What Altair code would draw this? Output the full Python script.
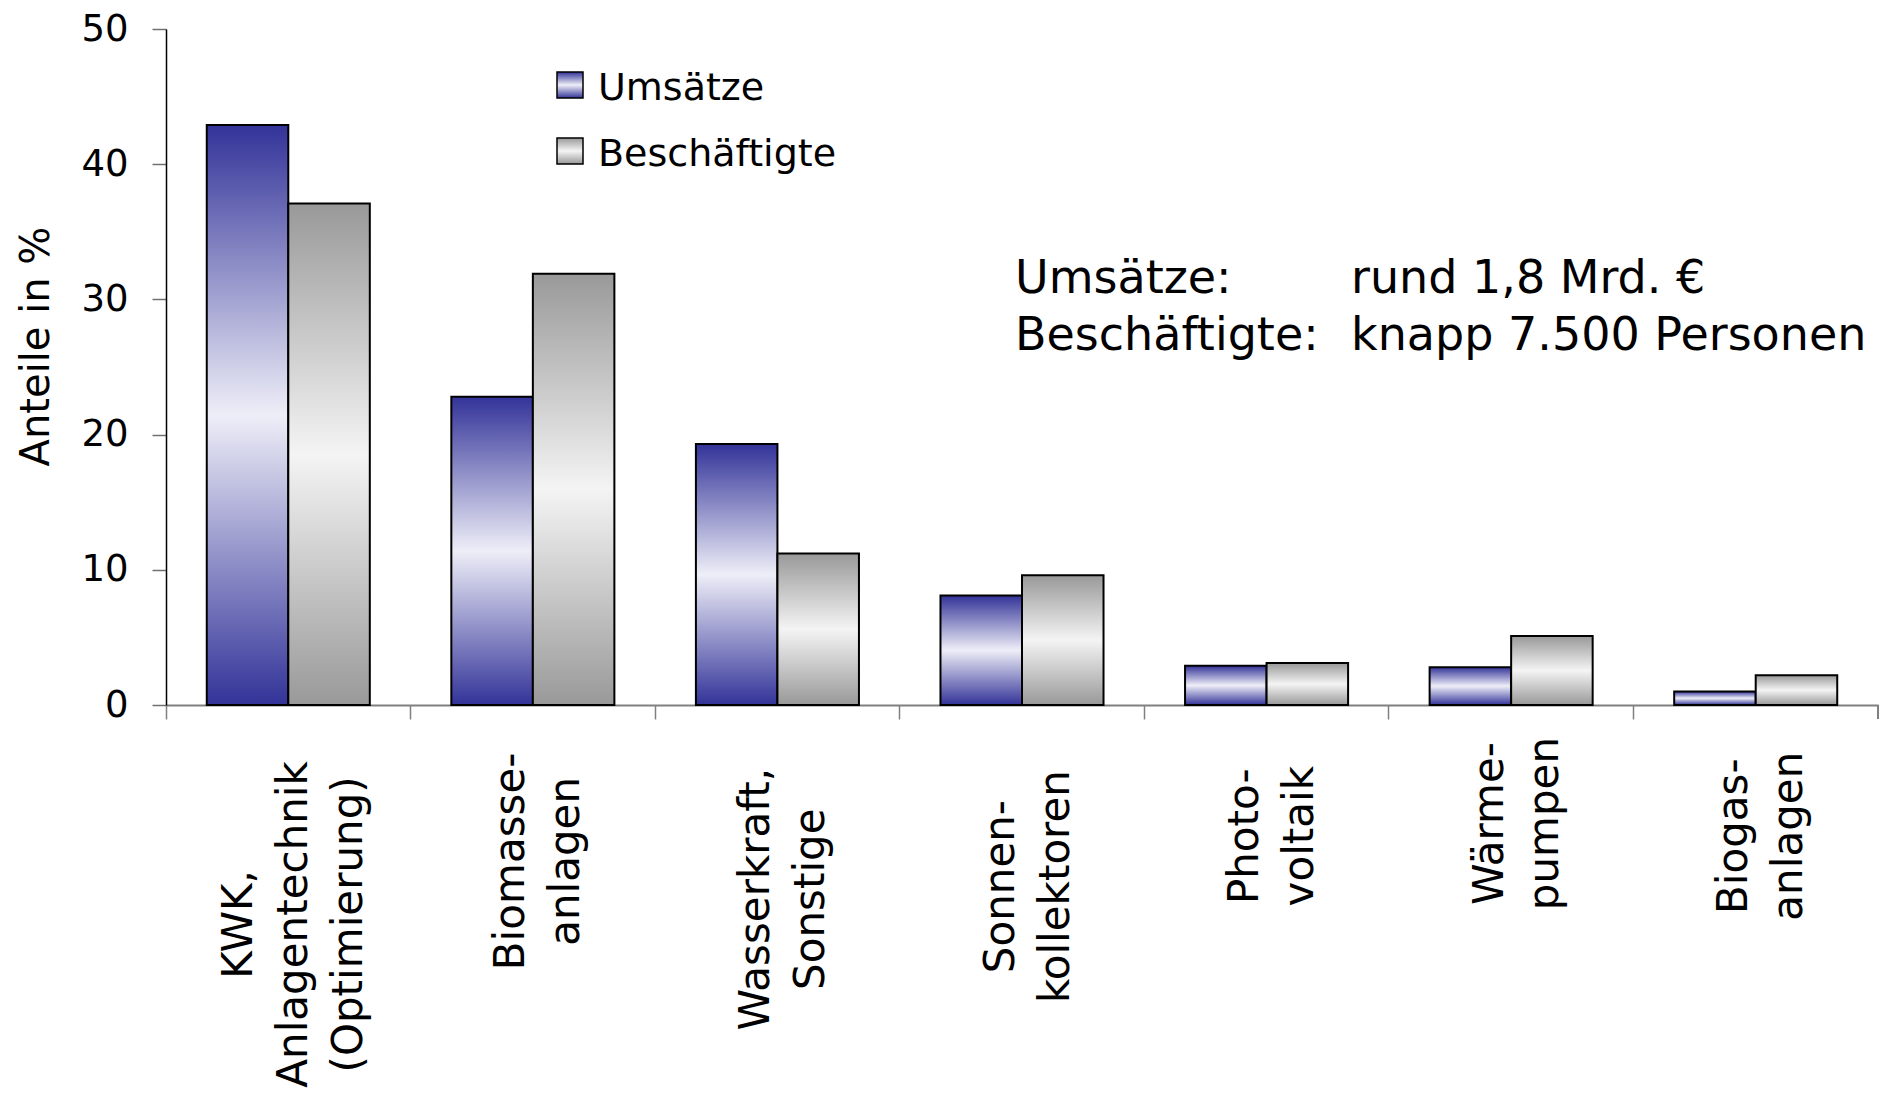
import altair as alt
import pandas as pd

# ---------------- data ----------------
kategorien = [
    "KWK,\nAnlagentechnik\n(Optimierung)",
    "Biomasse-\nanlagen",
    "Wasserkraft,\nSonstige",
    "Sonnen-\nkollektoren",
    "Photo-\nvoltaik",
    "Wärme-\npumpen",
    "Biogas-\nanlagen",
]
reihen = ["Umsätze", "Beschäftigte"]
umsaetze = [42.9, 22.8, 19.3, 8.1, 2.9, 2.8, 1.0]
beschaeftigte = [37.1, 31.9, 11.2, 9.6, 3.1, 5.1, 2.2]
y_ticks = [0, 10, 20, 30, 40, 50]
y_titel = "Anteile in %"
anno_labels = ["Umsätze:", "Beschäftigte:"]
anno_values = ["rund 1,8 Mrd. €", "knapp 7.500 Personen"]

# ---------------- tables ----------------
rows = []
for k, u, b in zip(kategorien, umsaetze, beschaeftigte):
    rows.append({"Kategorie": k, "Serie": reihen[0], "Wert": u})
    rows.append({"Kategorie": k, "Serie": reihen[1], "Wert": b})
df = pd.DataFrame(rows)

lab_df = pd.DataFrame({
    "Kategorie": kategorien,
    "maxlen": [max(len(s) for s in k.split("\n")) for k in kategorien],
    "nlines": [len(k.split("\n")) for k in kategorien],
})
leg_df = pd.DataFrame({"Serie": reihen, "idx": list(range(len(reihen)))})
anno_df = pd.DataFrame({"links": ["\n".join(anno_labels)], "rechts": ["\n".join(anno_values)]})

# ---------------- styles ----------------
TOP = 21
W, H = 1712, 676
FONT = "DejaVu Sans"
LH = 55

def grad(dark, light):
    return {
        "gradient": "linear", "x1": 0, "y1": 0, "x2": 0, "y2": 1,
        "stops": [
            {"offset": 0, "color": dark},
            {"offset": 0.5, "color": light},
            {"offset": 1, "color": dark},
        ],
    }

grad_u = grad("#333399", "#eeeef8")
grad_b = grad("#999999", "#f4f4f4")
fill_cond = alt.condition("datum.Serie === 'Umsätze'", alt.value(grad_u), alt.value(grad_b))

x_axis = alt.Axis(
    title=None, labels=False, bandPosition=0, tickSize=14, tickColor="#808080",
    tickWidth=1.5, domainColor="#808080", domainWidth=2, grid=False,
)
x_enc = alt.X("Kategorie:N", sort=kategorien,
              scale=alt.Scale(paddingInner=0, paddingOuter=0), axis=x_axis)

bars = alt.Chart(df).mark_bar(stroke="#000000", strokeWidth=2).encode(
    x=x_enc,
    xOffset=alt.XOffset("Serie:N", scale=alt.Scale(domain=reihen, paddingInner=0, paddingOuter=0.5)),
    y=alt.Y(
        "Wert:Q",
        scale=alt.Scale(domain=[0, 50], nice=False),
        axis=alt.Axis(
            values=y_ticks, title=y_titel, tickSize=14, tickColor="#707070", tickWidth=1.5,
            domainColor="#000000", domainWidth=1.5, grid=False,
            labelFont=FONT, labelFontSize=37, labelColor="#000000", labelPadding=24,
            titleFont=FONT, titleFontSize=40, titleFontWeight="normal", titleColor="#000000",
            titlePadding=24, titleY=346 - 8 - TOP,
        ),
    ),
    color=fill_cond,
)

end_tick = alt.Chart(lab_df).mark_rule(color="#808080", strokeWidth=1.5).encode(
    x=alt.value(W), y=alt.value(H), y2=alt.value(H + 14)
)

# category labels: each line centred, block top close to the axis
x_labels = alt.Chart(lab_df).mark_text(
    angle=270, align="center", baseline="middle", lineBreak="\n", lineHeight=LH,
    font=FONT, fontSize=42, color="#000000",
).encode(
    x=alt.XValue(value={"expr": f"scale('x', datum.Kategorie) + bandwidth('x') / 2 + 6 - (datum.nlines - 1) * {LH / 2}"}),
    y=alt.YValue(value={"expr": f"{H} + 43 + datum.maxlen * 12.6"}),
    text="Kategorie:N",
)
# keep the x scale domain order tied to the category list
x_anchor = alt.Chart(lab_df).mark_point(opacity=0, size=1).encode(
    x=x_enc, y=alt.value(0)
)

# legend (symbols with the same gradients as the bars)
leg_sym = alt.Chart(leg_df).mark_rect(stroke="#000000", strokeWidth=1.5).encode(
    x=alt.value(391), x2=alt.value(417),
    y=alt.YValue(value={"expr": f"{72 - 8 - TOP} + datum.idx * 66"}),
    y2=alt.Y2Value(value={"expr": f"{98 - 8 - TOP} + datum.idx * 66"}),
    color=fill_cond,
)
leg_txt = alt.Chart(leg_df).mark_text(
    align="left", baseline="alphabetic", font=FONT, fontSize=38, color="#000000",
).encode(
    x=alt.value(432),
    y=alt.YValue(value={"expr": f"{100 - 8 - TOP} + datum.idx * 66"}),
    text="Serie:N",
)

anno_l = alt.Chart(anno_df).mark_text(
    align="left", baseline="alphabetic", lineBreak="\n", lineHeight=57,
    font=FONT, fontSize=46, color="#000000",
).encode(x=alt.value(849), y=alt.value(293 - 8 - TOP), text="links:N")

anno_r = alt.Chart(anno_df).mark_text(
    align="left", baseline="alphabetic", lineBreak="\n", lineHeight=57,
    font=FONT, fontSize=46, color="#000000",
).encode(x=alt.value(1185), y=alt.value(293 - 8 - TOP), text="rechts:N")

chart = alt.layer(bars, x_anchor, end_tick, x_labels, leg_sym, leg_txt, anno_l, anno_r).properties(
    width=W, height=H,
    autosize=alt.AutoSizeParams(type="none"),
    padding={"left": 158, "top": TOP, "right": 4, "bottom": 385},
    background="#ffffff",
).configure_view(strokeWidth=0)

chart.save("out.html", embed_options={"renderer": "svg", "actions": False})
